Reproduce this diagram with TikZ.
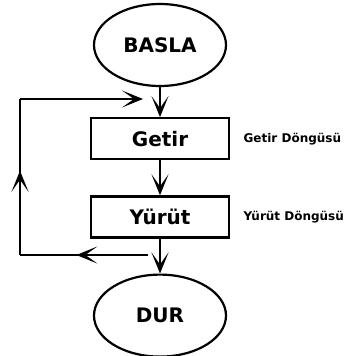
\documentclass[tikz,border=0pt]{standalone}
\usepackage{fontspec}
\setmainfont{DejaVu Sans}
\usetikzlibrary{shapes.geometric, arrows.meta, positioning, decorations.markings}

\begin{document}
\begin{tikzpicture}[
      x=1pt, y=-1pt,
      big/.style={font=\fontsize{20}{24}\selectfont\bfseries},
      term/.style={ellipse, draw=black, line width=2.2pt, minimum width=132pt,
                   minimum height=82pt, inner sep=0pt, big},
      box/.style={rectangle, draw=black, line width=2.2pt, minimum width=138pt,
                  minimum height=41pt, inner sep=0pt, big},
      note/.style={font=\fontsize{12}{14}\selectfont\bfseries, anchor=west},
      arr/.style={-{Stealth[length=21pt, width=17pt, inset=12pt]}, line width=2pt},
      midarr/.style={line width=2pt, postaction={decorate},
                     decoration={markings, mark=at position #1 with {\arrow{Stealth[length=21pt, width=17pt, inset=12pt]}}}}
    ]
    \useasboundingbox (0,0) rectangle (345,356);
    \node[term] (basla) at (160,45) {BASLA};
    \node[box, below=30pt of basla] (getir) {Getir};
    \node[box, below=35pt of getir] (yurut) {Yürüt};
    \node[term, below=35pt of yurut] (dur) {DUR};
    \node[note, right=10pt of getir] (getirnote) {Getir Döngüsü};
    \node[note, right=10pt of yurut] (yurutnote) {Yürüt Döngüsü};
    \draw[arr] (basla) -- (getir);
    \draw[arr] (getir) -- (yurut);
    \draw[arr] (yurut) -- (dur);
    % loop back
    \coordinate (loopa) at (148,255);
    \coordinate (loopb) at (20,255);
    \coordinate (loopc) at (20,99);
    \coordinate (loopd) at (143,99);
    \draw[midarr=0.56] (loopa) -- (loopb);
    \draw[midarr=0.54] (loopb) -- (loopc);
    \draw[arr] (loopc) -- (loopd);
  \end{tikzpicture}
\end{document}
